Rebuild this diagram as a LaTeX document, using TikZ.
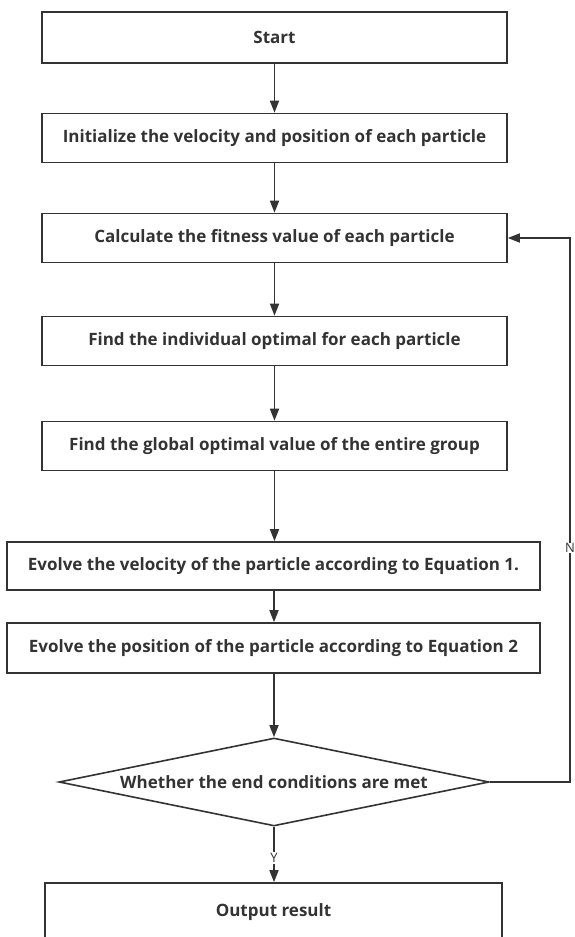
\documentclass[tikz,border=0pt]{standalone}
\usepackage{fontspec}
\setmainfont{Open Sans}
\usetikzlibrary{arrows.meta,shapes.geometric}
\definecolor{ink}{HTML}{333333}
\begin{document}
\begin{tikzpicture}[x=1pt,y=-1pt,
  every node/.style={font=\fontsize{17}{20}\selectfont\bfseries, text=ink},
  box/.style={draw=ink, line width=1.6pt, fill=white, inner sep=0pt},
  wbox/.style={box, minimum width=465pt, minimum height=49pt},
  xbox/.style={box, minimum width=533pt, minimum height=48pt},
  dec/.style={diamond, draw=ink, line width=1.6pt, inner sep=0pt, aspect=4.9, minimum width=430pt, minimum height=88pt},
  conn/.style={draw=ink, line width=1.6pt, -{Triangle[length=12pt,width=9pt]}},
  lbl/.style={fill=white, inner sep=1.5pt, font=\fontsize{13}{15}\selectfont, text=ink}]
\useasboundingbox (0,0) rectangle (574,937);
\node[box, minimum width=465pt, minimum height=51pt] (start) at (274.5,37.5) {Start};
\node[wbox] (init) at (274.5,138) {Initialize the velocity and position of each particle};
\node[wbox] (calc) at (274.5,238) {Calculate the fitness value of each particle};
\node[wbox] (ind) at (274.5,341) {Find the individual optimal for each particle};
\node[wbox] (glob) at (274.5,446) {Find the global optimal value of the entire group};
\node[xbox] (vel) at (273.5,566) {Evolve the velocity of the particle according to Equation 1.};
\node[xbox, minimum height=50pt] (pos) at (273.5,648) {Evolve the position of the particle according to Equation 2};
\node[dec] (end) at (274,782) {Whether the end conditions are met};
\node[box, minimum width=457pt, minimum height=62pt] (out) at (273.5,914) {};
\node (outt) at (273.5,912) {Output result};
\coordinate (r1) at (570,782);
\coordinate (r2) at (570,238);
\draw[conn] (start) -- (init);
\draw[conn] (init) -- (calc);
\draw[conn] (calc) -- (ind);
\draw[conn] (ind) -- (glob);
\draw[conn] (glob.south) -- (glob.south |- vel.north);
\draw[conn] (vel.south -| end.north) -- (pos.north -| end.north);
\draw[conn] (pos.south -| end.north) -- (end.north);
\draw[conn] (end.south) -- node[lbl, pos=0.56] {Y} (end.south |- out.north);
\draw[conn] (end.east) -- (r1) -- node[lbl, pos=0.43, inner sep=0.5pt] {N} (r2) -- (calc.east);
\end{tikzpicture}
\end{document}
